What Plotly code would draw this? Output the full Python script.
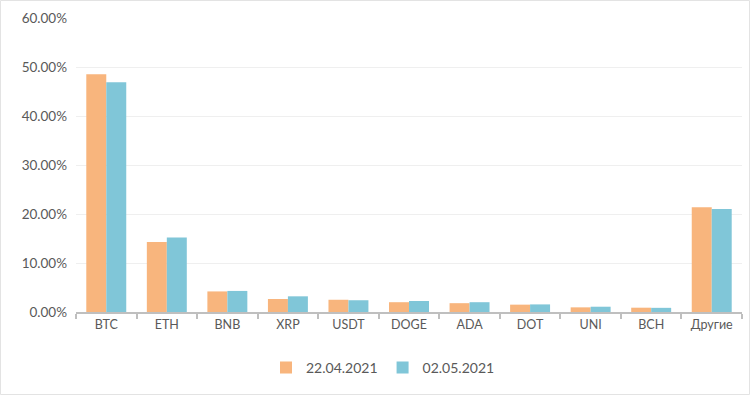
import plotly.graph_objects as go

categories = ["BTC", "ETH", "BNB", "XRP", "USDT", "DOGE", "ADA", "DOT", "UNI", "BCH", "Другие"]
series_a_name = "22.04.2021"
series_b_name = "02.05.2021"
series_a = [48.5, 14.3, 4.2, 2.65, 2.5, 2.0, 1.8, 1.5, 0.95, 0.88, 21.4]
series_b = [46.9, 15.2, 4.3, 3.2, 2.4, 2.25, 2.0, 1.55, 1.08, 0.85, 21.0]
y_ticks = [0, 10, 20, 30, 40, 50, 60]
y_tick_labels = ["%.2f%%" % v for v in y_ticks]

font_family = "Lato, Open Sans, sans-serif"
W, H = 750, 395
ml, mr, mt, mb = 76, 8, 18, 83
pw, ph = W - ml - mr, H - mt - mb

fig = go.Figure()
fig.add_trace(go.Bar(x=categories, y=series_a, name=series_a_name,
                     marker=dict(color="#F8B57D", line=dict(width=0))))
fig.add_trace(go.Bar(x=categories, y=series_b, name=series_b_name,
                     marker=dict(color="#80C6D8", line=dict(width=0))))

fig.update_layout(
    width=W, height=H,
    margin=dict(l=ml, r=mr, t=mt, b=mb),
    paper_bgcolor="white", plot_bgcolor="white",
    barmode="group", bargap=0.34, bargroupgap=0,
    font=dict(family=font_family, size=13, color="#595959"),
    showlegend=True,
    legend=dict(orientation="h", x=(266 - ml) / pw, xanchor="left", y=-0.19, yanchor="middle",
                font=dict(size=14, color="#595959"), itemwidth=30, traceorder="normal"),
    xaxis=dict(showline=True, linecolor="#BFBFBF", linewidth=2,
               ticks="outside", tickson="boundaries", ticklen=5, tickcolor="#BFBFBF",
               tickwidth=1.5, tickfont=dict(size=12.5, color="#595959"), showgrid=False),
    yaxis=dict(range=[0, 60], tickvals=y_ticks, ticktext=y_tick_labels,
               showgrid=True, gridcolor="#EFEFEF", gridwidth=1, zeroline=False,
               showline=False, ticks="", tickfont=dict(size=13.5, color="#595959"),
               ticklabelstandoff=8),
    shapes=[dict(type="rect", xref="paper", yref="paper",
                 x0=-ml / pw + 0.5 / pw, x1=1 + (mr - 0.5) / pw,
                 y0=-(mb - 0.5) / ph, y1=1 + (mt - 0.5) / ph,
                 line=dict(color="#E3E3E3", width=1), layer="below")],
)

fig.write_html("out.html")
